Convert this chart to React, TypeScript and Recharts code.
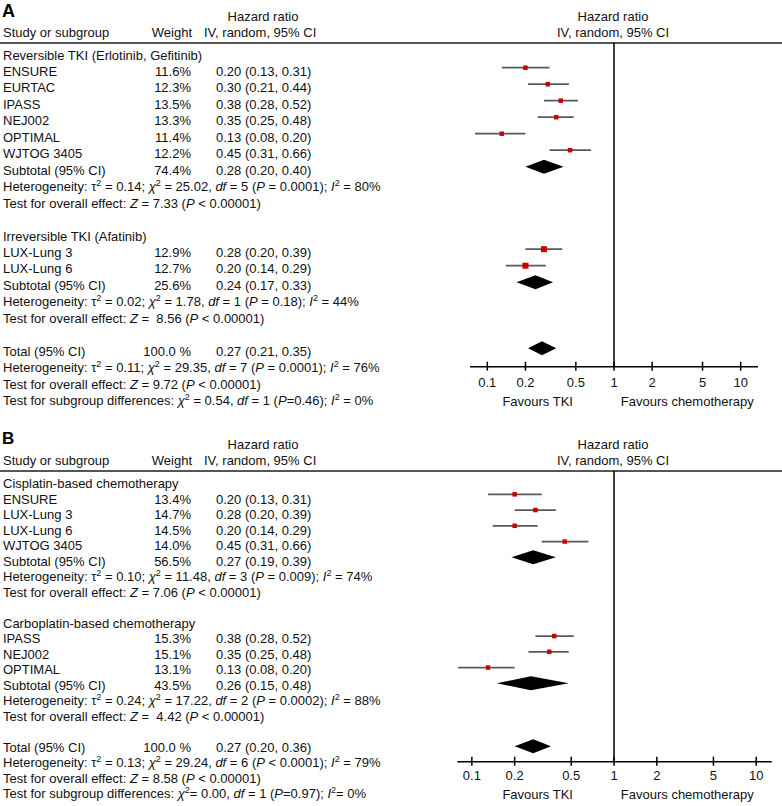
import React from 'react';
import { ComposedChart, XAxis, YAxis, Scatter, Area, ReferenceLine } from 'recharts';

const FONT = '"Liberation Sans", Arial, Helvetica, sans-serif';
const FS = 13;

// ---------------- Panel A data ----------------
const aGroupTitles = ['Reversible TKI (Erlotinib, Gefitinib)', 'Irreversible TKI (Afatinib)'];
const aG1Names = ['ENSURE', 'EURTAC', 'IPASS', 'NEJ002', 'OPTIMAL', 'WJTOG 3405'];
const aG1Weights = ['11.6%', '12.3%', '13.5%', '13.3%', '11.4%', '12.2%'];
const aG1HR = [0.2, 0.3, 0.38, 0.35, 0.13, 0.45];
const aG1Lo = [0.13, 0.21, 0.28, 0.25, 0.08, 0.31];
const aG1Hi = [0.31, 0.44, 0.52, 0.48, 0.2, 0.66];
const aG2Names = ['LUX-Lung 3', 'LUX-Lung 6'];
const aG2Weights = ['12.9%', '12.7%'];
const aG2HR = [0.28, 0.2];
const aG2Lo = [0.2, 0.14];
const aG2Hi = [0.39, 0.29];
const aSubWeights = ['74.4%', '25.6%'];
const aSubHR = [0.28, 0.24];
const aSubLo = [0.2, 0.17];
const aSubHi = [0.4, 0.33];
const aHet = [
  'Heterogeneity: τ^2 = 0.14; _χ_^2 = 25.02, _df_ = 5 (_P_ = 0.0001); _I_^2 = 80%',
  'Heterogeneity: τ^2 = 0.02; _χ_^2 = 1.78, _df_ = 1 (_P_ = 0.18); _I_^2 = 44%',
];
const aTest = [
  'Test for overall effect: _Z_ = 7.33 (_P_ < 0.00001)',
  'Test for overall effect: _Z_ =  8.56 (_P_ < 0.00001)',
];
const aTotal = { weight: '100.0 %', hr: 0.27, lo: 0.21, hi: 0.35 };
const aTotalLines = [
  'Heterogeneity: τ^2 = 0.11; _χ_^2 = 29.35, _df_ = 7 (_P_ = 0.0001); _I_^2 = 76%',
  'Test for overall effect: _Z_ = 9.72 (_P_ < 0.00001)',
  'Test for subgroup differences: _χ_^2 = 0.54, _df_ = 1 (_P_=0.46); _I_^2 = 0%',
];

// ---------------- Panel B data ----------------
const bGroupTitles = ['Cisplatin-based chemotherapy', 'Carboplatin-based chemotherapy'];
const bG1Names = ['ENSURE', 'LUX-Lung 3', 'LUX-Lung 6', 'WJTOG 3405'];
const bG1Weights = ['13.4%', '14.7%', '14.5%', '14.0%'];
const bG1HR = [0.2, 0.28, 0.2, 0.45];
const bG1Lo = [0.13, 0.2, 0.14, 0.31];
const bG1Hi = [0.31, 0.39, 0.29, 0.66];
const bG2Names = ['IPASS', 'NEJ002', 'OPTIMAL'];
const bG2Weights = ['15.3%', '15.1%', '13.1%'];
const bG2HR = [0.38, 0.35, 0.13];
const bG2Lo = [0.28, 0.25, 0.08];
const bG2Hi = [0.52, 0.48, 0.2];
const bSubWeights = ['56.5%', '43.5%'];
const bSubHR = [0.27, 0.26];
const bSubLo = [0.19, 0.15];
const bSubHi = [0.39, 0.48];
const bHet = [
  'Heterogeneity: τ^2 = 0.10; _χ_^2 = 11.48, _df_ = 3 (_P_ = 0.009); _I_^2 = 74%',
  'Heterogeneity: τ^2 = 0.24; _χ_^2 = 17.22, _df_ = 2 (_P_ = 0.0002); _I_^2 = 88%',
];
const bTest = [
  'Test for overall effect: _Z_ = 7.06 (_P_ < 0.00001)',
  'Test for overall effect: _Z_ =  4.42 (_P_ < 0.00001)',
];
const bTotal = { weight: '100.0 %', hr: 0.27, lo: 0.2, hi: 0.36 };
const bTotalLines = [
  'Heterogeneity: τ^2 = 0.13; _χ_^2 = 29.24, _df_ = 6 (_P_ < 0.0001); _I_^2 = 79%',
  'Test for overall effect: _Z_ = 8.58 (_P_ < 0.00001)',
  'Test for subgroup differences: _χ_^2= 0.00, _df_ = 1 (_P_=0.97); _I_^2= 0%',
];

const xTicks = [0.1, 0.2, 0.5, 1, 2, 5, 10];

// ---------------- structure ----------------
type Study = { name: string; weight: string; hr: number; lo: number; hi: number };
type Group = { title: string; studies: Study[]; sub: Study; het: string; test: string };

function zipStudies(names: string[], w: string[], hr: number[], lo: number[], hi: number[]): Study[] {
  return names.map((n, i) => ({ name: n, weight: w[i], hr: hr[i], lo: lo[i], hi: hi[i] }));
}

function makeGroups(
  titles: string[],
  studies: Study[][],
  subW: string[],
  subHR: number[],
  subLo: number[],
  subHi: number[],
  het: string[],
  test: string[]
): Group[] {
  return titles.map((t, i) => ({
    title: t,
    studies: studies[i],
    sub: { name: 'Subtotal (95% CI)', weight: subW[i], hr: subHR[i], lo: subLo[i], hi: subHi[i] },
    het: het[i],
    test: test[i],
  }));
}

const groupsA = makeGroups(
  aGroupTitles,
  [zipStudies(aG1Names, aG1Weights, aG1HR, aG1Lo, aG1Hi), zipStudies(aG2Names, aG2Weights, aG2HR, aG2Lo, aG2Hi)],
  aSubWeights, aSubHR, aSubLo, aSubHi, aHet, aTest
);
const groupsB = makeGroups(
  bGroupTitles,
  [zipStudies(bG1Names, bG1Weights, bG1HR, bG1Lo, bG1Hi), zipStudies(bG2Names, bG2Weights, bG2HR, bG2Lo, bG2Hi)],
  bSubWeights, bSubHR, bSubLo, bSubHi, bHet, bTest
);

const fmt = (s: { hr: number; lo: number; hi: number }) =>
  `${s.hr.toFixed(2)} (${s.lo.toFixed(2)}, ${s.hi.toFixed(2)})`;

type TextLine = { row: number; label?: string; weight?: string; hrText?: string; rich?: string };
type Pt = { x: number; y: number; g: number };
type Ci = { lo: number; hi: number; y: number };
type Dia = { lo: number; hr: number; hi: number; y: number };

function buildPanel(groups: Group[], total: { weight: string; hr: number; lo: number; hi: number }, totalLines: string[]) {
  const lines: TextLine[] = [];
  const pts: Pt[] = [];
  const cis: Ci[] = [];
  const dias: Dia[] = [];
  let r = 0;
  groups.forEach((g, gi) => {
    lines.push({ row: r - 1, label: g.title });
    g.studies.forEach((s) => {
      lines.push({ row: r, label: s.name, weight: s.weight, hrText: fmt(s) });
      pts.push({ x: s.hr, y: r, g: gi });
      cis.push({ lo: s.lo, hi: s.hi, y: r });
      r++;
    });
    lines.push({ row: r, label: g.sub.name, weight: g.sub.weight, hrText: fmt(g.sub) });
    dias.push({ lo: g.sub.lo, hr: g.sub.hr, hi: g.sub.hi, y: r });
    lines.push({ row: r + 1, rich: g.het });
    lines.push({ row: r + 2, rich: g.test });
    r += 5;
  });
  const tr = r - 1;
  lines.push({ row: tr, label: 'Total (95% CI)', weight: total.weight, hrText: fmt(total) });
  dias.push({ lo: total.lo, hr: total.hr, hi: total.hi, y: tr });
  totalLines.forEach((t, i) => lines.push({ row: tr + 1 + i, rich: t }));
  return { lines, pts, cis, dias };
}

// ---------------- layout ----------------
type Cfg = {
  letter: string;
  letterY: number;
  letterSize: number;
  hdr1Y: number;
  hdr2Y: number;
  ruleY: number;
  textY0: number;
  textStep: number;
  markerY0: number;
  markerStep: number;
  axisY: number;
  plotLeft: number;
  plotRight: number;
  domain: [number, number];
  tickLabelOffset: number;
  favoursY: number;
  chartTop: number;
  chartH: number;
  sqSizes: number[];
};

const cfgA: Cfg = {
  letter: 'A', letterY: 11, letterSize: 18,
  hdr1Y: 17, hdr2Y: 33, ruleY: 42.5,
  textY0: 72, textStep: 16.45,
  markerY0: 67.7, markerStep: 16.5,
  axisY: 366.7, plotLeft: 470, plotRight: 758,
  domain: [0.073, 13.7], tickLabelOffset: 16, favoursY: 401.7,
  chartTop: 0, chartH: 420, sqSizes: [4.5, 6],
};
const cfgB: Cfg = {
  letter: 'B', letterY: 439, letterSize: 17,
  hdr1Y: 445, hdr2Y: 461, ruleY: 470.7,
  textY0: 499.5, textStep: 15.5,
  markerY0: 494.3, markerStep: 15.75,
  axisY: 761.7, plotLeft: 457.3, plotRight: 771.7,
  domain: [0.079, 12.85], tickLabelOffset: 14, favoursY: 795,
  chartTop: 410, chartH: 396, sqSizes: [4.5, 4.5],
};

const Rich = ({ s }: { s: string }) => {
  const out: React.ReactNode[] = [];
  const re = /_([^_]+)_|\^(\d)/g;
  let last = 0;
  let m: RegExpExecArray | null;
  let k = 0;
  while ((m = re.exec(s)) !== null) {
    if (m.index > last) out.push(s.slice(last, m.index));
    if (m[1] !== undefined) out.push(<i key={k++}>{m[1]}</i>);
    else
      out.push(
        <span key={k++} style={{ fontSize: 9, position: 'relative', top: -5 }}>
          {m[2]}
        </span>
      );
    last = re.lastIndex;
  }
  if (last < s.length) out.push(s.slice(last));
  return <>{out}</>;
};

const T = ({ x, y, w, align, children, style }: any) => (
  <div
    style={{
      position: 'absolute',
      left: x,
      top: y - 8,
      width: w,
      height: 16,
      lineHeight: '16px',
      fontSize: FS,
      textAlign: align || 'left',
      whiteSpace: 'pre',
      color: '#111',
      ...style,
    }}
  >
    {children}
  </div>
);

const makeTick = (off: number) => (props: any) => {
  const { x, y, payload } = props;
  return (
    <g>
      <line x1={x} x2={x} y1={y - 5} y2={y + 4} stroke="#000" strokeWidth={1.5} />
      <text x={x} y={y + off} textAnchor="middle" dominantBaseline="central" fontSize={FS} fontFamily={FONT} fill="#111">
        {String(payload.value)}
      </text>
    </g>
  );
};

const Square = (size: number) => (props: any) => {
  const { cx, cy } = props;
  if (cx == null || cy == null) return null;
  return <rect x={cx - size / 2} y={cy - size / 2} width={size} height={size} fill="#cc0000" />;
};

function Panel({ cfg, groups, total, totalLines }: { cfg: Cfg; groups: Group[]; total: any; totalLines: string[] }) {
  const { lines, pts, cis, dias } = buildPanel(groups, total, totalLines);
  const ty = (row: number) => cfg.textY0 + cfg.textStep * row;
  const yMin = (cfg.ruleY - cfg.markerY0) / cfg.markerStep;
  const yMax = (cfg.axisY - cfg.markerY0) / cfg.markerStep;
  const half = 7 / cfg.markerStep;
  const axisH = 30;
  const margin = {
    top: cfg.ruleY - cfg.chartTop,
    bottom: cfg.chartTop + cfg.chartH - cfg.axisY - axisH,
    left: cfg.plotLeft,
    right: 782 - cfg.plotRight,
  };
  const groupIdx = Array.from(new Set(pts.map((p) => p.g)));
  return (
    <>
      <div
        style={{
          position: 'absolute',
          left: 2,
          top: cfg.letterY - 11,
          height: 22,
          lineHeight: '22px',
          fontSize: cfg.letterSize,
          fontWeight: 'bold',
          color: '#000',
        }}
      >
        {cfg.letter}
      </div>
      <T x={163} y={cfg.hdr1Y} w={200} align="center">Hazard ratio</T>
      <T x={3} y={cfg.hdr2Y}>Study or subgroup</T>
      <T x={112} y={cfg.hdr2Y} w={80} align="right">Weight</T>
      <T x={204} y={cfg.hdr2Y}>IV, random, 95% CI</T>
      <T x={513} y={cfg.hdr1Y} w={200} align="center">Hazard ratio</T>
      <T x={513} y={cfg.hdr2Y} w={200} align="center">IV, random, 95% CI</T>
      <div style={{ position: 'absolute', left: 0, top: cfg.ruleY - 1, width: 782, height: 2, background: '#555' }} />
      {lines.map((l, i) => (
        <React.Fragment key={i}>
          {l.rich ? (
            <T x={3} y={ty(l.row)}>
              <Rich s={l.rich} />
            </T>
          ) : (
            <T x={3} y={ty(l.row)}>{l.label}</T>
          )}
          {l.weight && <T x={111} y={ty(l.row)} w={80} align="right">{l.weight}</T>}
          {l.hrText && <T x={216} y={ty(l.row)}>{l.hrText}</T>}
        </React.Fragment>
      ))}
      <T x={437.7} y={cfg.favoursY} w={200} align="center">Favours TKI</T>
      <T x={587.3} y={cfg.favoursY} w={200} align="center">Favours chemotherapy</T>
      <div style={{ position: 'absolute', left: 0, top: cfg.chartTop, width: 782, height: cfg.chartH }}>
        <ComposedChart width={782} height={cfg.chartH} margin={margin}>
          <XAxis
            type="number"
            dataKey="x"
            scale="log"
            domain={cfg.domain}
            allowDataOverflow
            ticks={xTicks}
            interval={0}
            height={axisH}
            tickSize={0}
            tickMargin={0}
            tickLine={false}
            axisLine={{ stroke: '#000', strokeWidth: 1.5 }}
            tick={makeTick(cfg.tickLabelOffset)}
          />
          <YAxis type="number" dataKey="y" domain={[yMin, yMax]} reversed allowDataOverflow hide />
          <ReferenceLine x={1} stroke="#000" strokeWidth={1.5} />
          {cis.map((c, i) => (
            <ReferenceLine
              key={'ci' + i}
              segment={[
                { x: c.lo, y: c.y },
                { x: c.hi, y: c.y },
              ]}
              stroke="#5a5a5a"
              strokeWidth={1.8}
            />
          ))}
          {dias.map((d, i) => (
            <Area
              key={'d' + i}
              data={[
                { x: d.lo, band: [d.y, d.y] },
                { x: d.hr, band: [d.y - half, d.y + half] },
                { x: d.hi, band: [d.y, d.y] },
              ]}
              dataKey="band"
              type="linear"
              stroke="none"
              fill="#000"
              fillOpacity={1}
              dot={false}
              activeDot={false}
              isAnimationActive={false}
            />
          ))}
          {groupIdx.map((g) => (
            <Scatter
              key={'s' + g}
              data={pts.filter((p) => p.g === g)}
              shape={Square(cfg.sqSizes[g])}
              isAnimationActive={false}
            />
          ))}
        </ComposedChart>
      </div>
    </>
  );
}

export default function App() {
  return (
    <div
      style={{
        position: 'absolute',
        left: 0,
        top: 0,
        width: 782,
        height: 806,
        background: '#fff',
        fontFamily: FONT,
        overflow: 'hidden',
      }}
    >
      <Panel cfg={cfgA} groups={groupsA} total={aTotal} totalLines={aTotalLines} />
      <Panel cfg={cfgB} groups={groupsB} total={bTotal} totalLines={bTotalLines} />
    </div>
  );
}
